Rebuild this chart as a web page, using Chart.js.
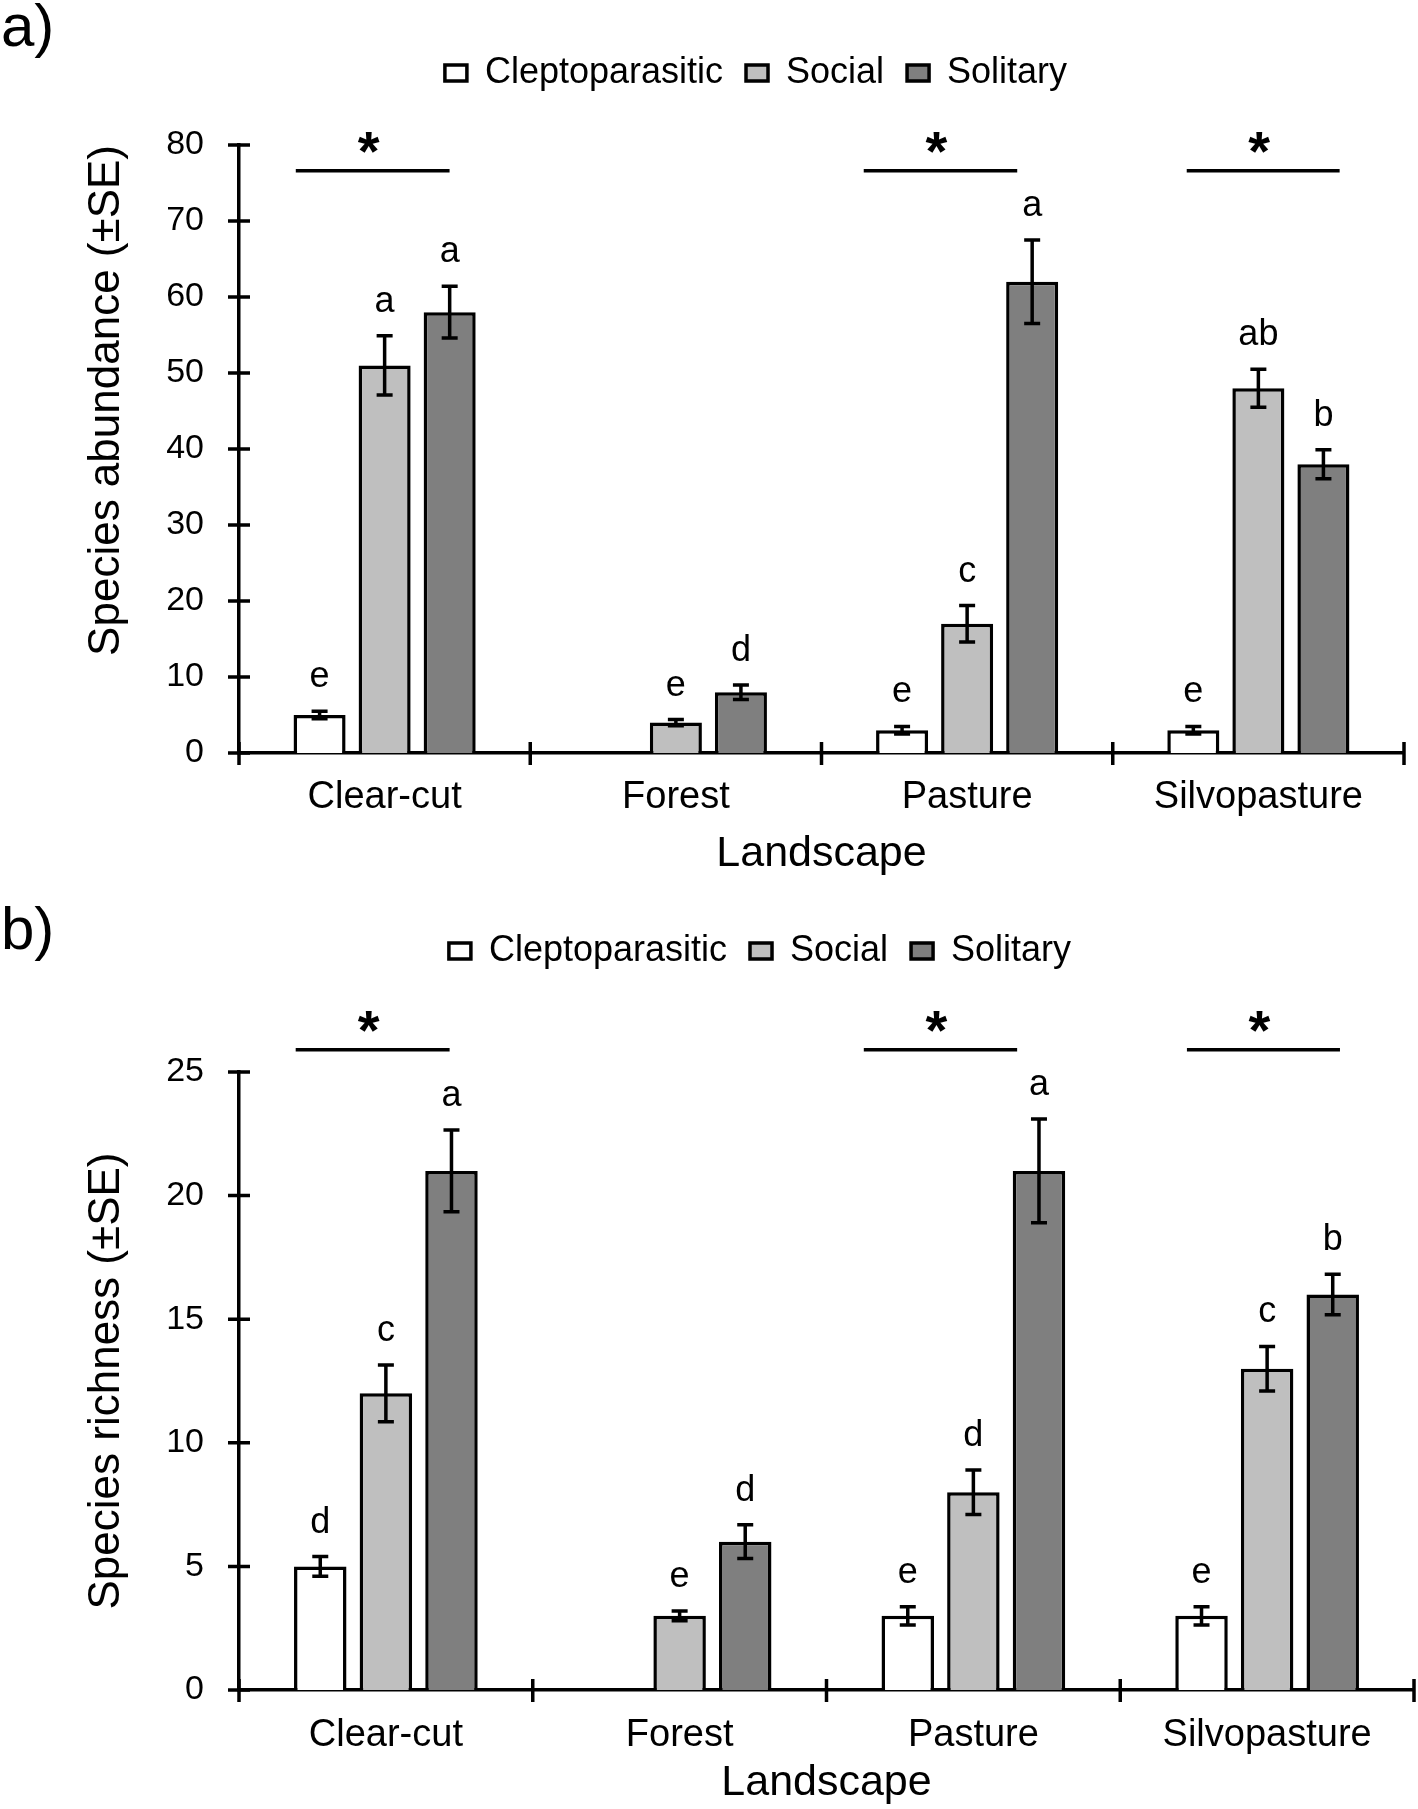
<!DOCTYPE html>
<html>
<head>
<meta charset="utf-8">
<title>Bee species abundance and richness by landscape</title>
<script src="https://cdn.jsdelivr.net/npm/chart.js@4.4.1/dist/chart.umd.min.js"></script>
<style>
  html, body { margin: 0; padding: 0; background: #fff; }
  body { width: 1418px; height: 1809px; position: relative; overflow: hidden; font-family: "Liberation Sans", Arial, sans-serif; }
  .panel { position: absolute; left: 0; width: 1418px; }
  .tag { position: absolute; left: 1px; font-size: 60px; line-height: 60px; color: #000; }
</style>
</head>
<body>
<div class="panel" style="top:0;height:880px"><canvas id="chartA"></canvas></div>
<div class="panel" style="top:880px;height:929px"><canvas id="chartB"></canvas></div>
<div class="tag" style="top:-4px">a)</div>
<div class="tag" style="top:899px">b)</div>
<script>
// Categories and groups
var landscapes = ["Clear-cut", "Forest", "Pasture", "Silvopasture"];
var groups = ["Cleptoparasitic", "Social", "Solitary"];
var groupColors = ["#ffffff", "#bfbfbf", "#7f7f7f"];

// a) Species abundance
var abundClepto = [5, null, 3, 3];
var abundSocial = [51, 4, 17, 48];
var abundSolitary = [58, 8, 62, 38];
var abundCleptoSE = [0.5, null, 0.5, 0.5];
var abundSocialSE = [3.9, 0.4, 2.4, 2.5];
var abundSolitarySE = [3.4, 0.95, 5.5, 1.9];
var abundCleptoLetters = ["e", null, "e", "e"];
var abundSocialLetters = ["a", "e", "c", "ab"];
var abundSolitaryLetters = ["a", "d", "a", "b"];
var abundTicks = [0, 10, 20, 30, 40, 50, 60, 70, 80];

// b) Species richness
var richClepto = [5, null, 3, 3];
var richSocial = [12, 3, 8, 13];
var richSolitary = [21, 6, 21, 16];
var richCleptoSE = [0.4, null, 0.37, 0.37];
var richSocialSE = [1.15, 0.2, 0.9, 0.9];
var richSolitarySE = [1.65, 0.68, 2.1, 0.82];
var richCleptoLetters = ["d", null, "e", "e"];
var richSocialLetters = ["c", "e", "d", "c"];
var richSolitaryLetters = ["a", "d", "a", "b"];
var richTicks = [0, 5, 10, 15, 20, 25];

// Significance brackets (*): landscape, span in category units around its centre,
// and bracket height in axis units
var sigLandscapes = ["Clear-cut", "Pasture", "Silvopasture"];
var abundSigSpans = [[-0.305, 0.223], [-0.355, 0.172], [-0.246, 0.279]];
var richSigSpans = [[-0.307, 0.217], [-0.373, 0.149], [-0.273, 0.248]];
var abundSigLevel = 76.6;
var richSigLevel = 25.9;

var FONT = "'Liberation Sans', Arial, sans-serif";
var LINE = 3.5;
Chart.defaults.font.family = FONT;
Chart.defaults.color = "#000";

// Move the legend sideways (it is centred on the whole figure, not the plot)
var legendShiftPlugin = {
  id: "legendShift",
  afterLayout: function (chart, args, opts) {
    if (chart.legend) {
      chart.legend.left += opts.dx;
      chart.legend.right += opts.dx;
    }
  }
};

// Error bars (±SE) and letters above them
var errorBarPlugin = {
  id: "errorBars",
  afterDatasetsDraw: function (chart) {
    var ctx = chart.ctx;
    var y = chart.scales.y;
    ctx.save();
    ctx.strokeStyle = "#000";
    ctx.fillStyle = "#000";
    ctx.lineWidth = LINE;
    ctx.font = "36px " + FONT;
    ctx.textAlign = "center";
    ctx.textBaseline = "alphabetic";
    chart.data.datasets.forEach(function (ds, d) {
      var meta = chart.getDatasetMeta(d);
      meta.data.forEach(function (bar, i) {
        var v = ds.data[i];
        if (v == null) return;
        var top = y.getPixelForValue(v + ds.se[i]);
        var bottom = y.getPixelForValue(v - ds.se[i]);
        ctx.beginPath();
        ctx.moveTo(bar.x, top);
        ctx.lineTo(bar.x, bottom);
        ctx.moveTo(bar.x - 8, top);
        ctx.lineTo(bar.x + 8, top);
        ctx.moveTo(bar.x - 8, bottom);
        ctx.lineTo(bar.x + 8, bottom);
        ctx.stroke();
        if (ds.letters[i]) ctx.fillText(ds.letters[i], bar.x, top - 24);
      });
    });
    ctx.restore();
  }
};

// Significance brackets with asterisk
var sigPlugin = {
  id: "sigBrackets",
  afterDraw: function (chart, args, opts) {
    var ctx = chart.ctx;
    var x = chart.scales.x;
    var py = chart.scales.y.getPixelForValue(opts.level);
    var catWidth = (x.right - x.left) / landscapes.length;
    ctx.save();
    ctx.strokeStyle = "#000";
    ctx.fillStyle = "#000";
    ctx.lineWidth = LINE;
    ctx.font = "bold 56px " + FONT;
    ctx.textAlign = "left";
    ctx.textBaseline = "alphabetic";
    var m = ctx.measureText("*");
    sigLandscapes.forEach(function (name, k) {
      var centre = x.getPixelForValue(landscapes.indexOf(name));
      var x0 = centre + opts.spans[k][0] * catWidth;
      var x1 = centre + opts.spans[k][1] * catWidth;
      ctx.beginPath();
      ctx.moveTo(x0, py);
      ctx.lineTo(x1, py);
      ctx.stroke();
      var cx = (x0 + x1) / 2 - 4;
      var cy = py - 28;
      ctx.fillText("*",
        cx - (m.actualBoundingBoxRight - m.actualBoundingBoxLeft) / 2,
        cy + (m.actualBoundingBoxAscent - m.actualBoundingBoxDescent) / 2);
    });
    ctx.restore();
  }
};

// Tick marks that cross both axes
var axisTickPlugin = {
  id: "axisTicks",
  afterDraw: function (chart) {
    var ctx = chart.ctx;
    var x = chart.scales.x;
    var y = chart.scales.y;
    var area = chart.chartArea;
    ctx.save();
    ctx.strokeStyle = "#000";
    ctx.lineWidth = LINE;
    ctx.beginPath();
    y.ticks.forEach(function (t) {
      var py = y.getPixelForValue(t.value);
      ctx.moveTo(area.left - 11, py);
      ctx.lineTo(area.left + 11, py);
    });
    var step = (x.right - x.left) / landscapes.length;
    for (var k = 0; k <= landscapes.length; k++) {
      var px = x.left + k * step;
      ctx.moveTo(px, area.bottom - 11);
      ctx.lineTo(px, area.bottom + 12);
    }
    ctx.stroke();
    ctx.restore();
  }
};

function buildChart(canvasId, series, seList, letterList, yTicks, yTitle, lay) {
  var datasets = groups.map(function (g, k) {
    return {
      label: g,
      data: series[k],
      se: seList[k],
      letters: letterList[k],
      backgroundColor: groupColors[k],
      borderColor: "#000",
      borderWidth: LINE,
      categoryPercentage: 0.67,
      barPercentage: 0.8
    };
  });

  return new Chart(document.getElementById(canvasId), {
    type: "bar",
    data: { labels: landscapes, datasets: datasets },
    options: {
      responsive: true,
      maintainAspectRatio: false,
      animation: false,
      layout: { padding: { top: lay.top, right: lay.right, left: 0, bottom: 0 } },
      plugins: {
        legend: {
          position: "top",
          labels: { font: { size: 36 }, color: "#000", boxWidth: 22, boxHeight: 16, padding: 23 }
        },
        // empty title used as the gap between legend and plot
        title: { display: true, text: "", weight: 100, font: { size: 10, lineHeight: 1 }, padding: { top: lay.gap, bottom: 0 } },
        tooltip: { enabled: false },
        legendShift: { dx: lay.legendShift },
        sigBrackets: { level: lay.sigLevel, spans: lay.sigSpans }
      },
      scales: {
        x: {
          grid: { display: false, drawTicks: false },
          border: { display: true, color: "#000", width: LINE },
          ticks: { font: { size: 38 }, color: "#000", padding: lay.xPad, maxRotation: 0 },
          title: { display: true, text: "Landscape", font: { size: 43 }, color: "#000", padding: { top: 0, bottom: 0 } },
          afterFit: function (s) { s.height = lay.xHeight; }
        },
        y: {
          min: 0,
          max: yTicks[yTicks.length - 1],
          grid: { display: false, drawTicks: false },
          border: { display: true, color: "#000", width: LINE },
          ticks: { font: { size: 34 }, color: "#000", padding: 35 },
          afterBuildTicks: function (s) {
            s.ticks = yTicks.map(function (v) { return { value: v }; });
          },
          title: { display: true, text: yTitle, font: { size: 44 }, color: "#000", align: lay.yTitleAlign, padding: { top: 80, bottom: 0 } },
          afterFit: function (s) { s.width = 239; }
        }
      }
    },
    plugins: [legendShiftPlugin, errorBarPlugin, sigPlugin, axisTickPlugin]
  });
}

buildChart("chartA",
  [abundClepto, abundSocial, abundSolitary],
  [abundCleptoSE, abundSocialSE, abundSolitarySE],
  [abundCleptoLetters, abundSocialLetters, abundSolitaryLetters],
  abundTicks, "Species abundance (±SE)",
  { top: 32, right: 14, gap: 34, legendShift: 54, sigLevel: abundSigLevel, sigSpans: abundSigSpans,
    xPad: 22, xHeight: 127, yTitleAlign: "end" });

buildChart("chartB",
  [richClepto, richSocial, richSolitary],
  [richCleptoSE, richSocialSE, richSolitarySE],
  [richCleptoLetters, richSocialLetters, richSolitaryLetters],
  richTicks, "Species richness (±SE)",
  { top: 30, right: 4, gap: 83, legendShift: 53, sigLevel: richSigLevel, sigSpans: richSigSpans,
    xPad: 23, xHeight: 119, yTitleAlign: "center" });
</script>
</body>
</html>
